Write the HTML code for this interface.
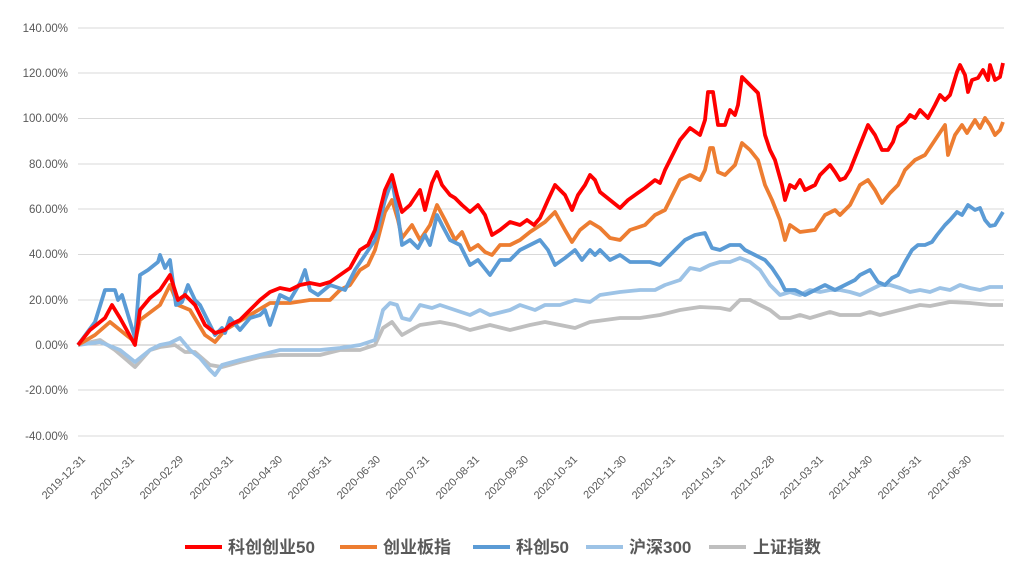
<!DOCTYPE html>
<html><head><meta charset="utf-8"><style>
body{margin:0;background:#fff;}
svg{display:block;font-family:"Liberation Sans","Noto Sans CJK SC",sans-serif;}
</style></head><body>
<svg width="1024" height="575" viewBox="0 0 1024 575">
<g stroke="#d9d9d9" stroke-width="1">
<line x1="78" x2="1004" y1="28" y2="28"/><line x1="78" x2="1004" y1="73" y2="73"/>
<line x1="78" x2="1004" y1="118.5" y2="118.5"/><line x1="78" x2="1004" y1="164" y2="164"/>
<line x1="78" x2="1004" y1="209" y2="209"/><line x1="78" x2="1004" y1="254.5" y2="254.5"/>
<line x1="78" x2="1004" y1="300" y2="300"/><line x1="78" x2="1004" y1="390" y2="390"/>
<line x1="78" x2="1004" y1="436" y2="436"/>
<line x1="78" x2="1004" y1="345" y2="345" stroke="#bfbfbf"/>
</g>
<g font-size="11.5" fill="#595959" text-anchor="end">
<text x="68" y="32">140.00%</text><text x="68" y="77">120.00%</text><text x="68" y="122">100.00%</text>
<text x="68" y="168">80.00%</text><text x="68" y="213">60.00%</text><text x="68" y="258">40.00%</text>
<text x="68" y="304">20.00%</text><text x="68" y="349">0.00%</text><text x="68" y="394">-20.00%</text>
<text x="68" y="440">-40.00%</text>
</g>
<g font-size="11" fill="#595959" text-anchor="end">
<text transform="translate(86,460) rotate(-45)">2019-12-31</text>
<text transform="translate(135,460) rotate(-45)">2020-01-31</text>
<text transform="translate(184,460) rotate(-45)">2020-02-29</text>
<text transform="translate(234,460) rotate(-45)">2020-03-31</text>
<text transform="translate(283,460) rotate(-45)">2020-04-30</text>
<text transform="translate(332,460) rotate(-45)">2020-05-31</text>
<text transform="translate(381,460) rotate(-45)">2020-06-30</text>
<text transform="translate(430,460) rotate(-45)">2020-07-31</text>
<text transform="translate(480,460) rotate(-45)">2020-08-31</text>
<text transform="translate(529,460) rotate(-45)">2020-09-30</text>
<text transform="translate(578,460) rotate(-45)">2020-10-31</text>
<text transform="translate(627,460) rotate(-45)">2020-11-30</text>
<text transform="translate(676,460) rotate(-45)">2020-12-31</text>
<text transform="translate(726,460) rotate(-45)">2021-01-31</text>
<text transform="translate(775,460) rotate(-45)">2021-02-28</text>
<text transform="translate(824,460) rotate(-45)">2021-03-31</text>
<text transform="translate(873,460) rotate(-45)">2021-04-30</text>
<text transform="translate(922,460) rotate(-45)">2021-05-31</text>
<text transform="translate(972,460) rotate(-45)">2021-06-30</text>
</g>
<g fill="none" stroke-width="3.8" stroke-linejoin="round">
<polyline stroke="#bfbfbf" points="78,345 100,340 115,350 135,367 150,350 160,347 175,345 185,352 195,352 210,365 222,367 240,362 260,357 280,355 300,355 320,355 340,350 360,350 375,345 383,328 392,322 398,330 402,335 420,325 440,322 455,325 470,330 490,325 510,330 530,325 545,322 560,325 575,328 590,322 605,320 620,318 640,318 660,315 680,310 700,307 720,308 730,310 740,300 750,300 760,305 770,310 780,318 790,318 800,315 810,318 820,315 830,312 840,315 860,315 870,312 880,315 900,310 920,305 930,306 950,302 970,303 990,305 1003,305"/>
<polyline stroke="#9dc3e6" points="78,345 100,342 120,350 135,362 150,350 160,345 170,343 180,338 190,350 200,358 210,370 215,375 222,365 240,360 260,355 280,350 300,350 320,350 340,348 360,345 375,340 383,310 390,303 397,305 402,318 410,320 420,305 432,308 440,305 455,310 470,315 480,310 490,315 510,310 520,305 535,310 545,305 560,305 575,300 590,302 600,295 620,292 640,290 655,290 665,285 680,280 690,268 700,270 710,265 720,262 730,262 740,258 750,262 760,270 770,285 780,295 790,292 800,295 810,290 820,292 830,290 840,290 850,292 860,295 870,290 880,285 890,285 900,288 910,292 920,290 930,292 940,288 950,290 960,285 970,288 980,290 990,287 1003,287"/>
<polyline stroke="#ed7d31" points="78,345 95,335 110,322 120,330 135,342 140,320 160,305 170,285 178,305 190,310 205,335 215,342 225,330 250,315 270,303 290,303 310,300 330,300 340,290 350,285 360,270 368,265 375,250 385,212 392,200 398,220 402,238 412,225 420,240 430,225 437,205 445,220 455,240 462,232 470,250 478,245 485,252 492,255 500,245 510,245 520,240 530,232 545,222 555,212 565,230 572,242 580,230 590,222 600,228 610,238 620,240 630,230 645,225 655,215 665,210 670,200 680,180 690,175 700,180 705,170 710,148 713,148 718,172 725,175 735,165 742,143 750,150 758,160 765,185 772,200 780,220 785,240 790,225 800,232 815,230 825,215 835,210 840,215 850,205 860,185 868,180 875,190 882,203 890,193 898,185 905,170 915,160 925,155 935,140 945,125 948,155 955,135 962,125 967,133 975,120 980,128 985,118 990,125 995,135 1000,130 1003,122"/>
<polyline stroke="#5b9bd5" points="78,345 95,322 105,290 115,290 118,300 122,295 135,338 140,275 148,270 158,262 160,255 165,268 170,260 176,305 182,302 188,285 195,300 200,305 210,325 215,335 222,328 225,333 230,318 240,330 250,318 260,315 265,310 270,325 280,295 290,300 300,283 305,270 310,290 318,295 330,285 345,290 355,270 365,255 375,240 385,200 392,180 398,215 402,245 410,240 418,248 425,235 430,245 437,215 442,225 450,240 460,245 470,265 478,260 490,275 500,260 510,260 520,250 530,245 540,240 548,250 555,265 565,258 575,250 582,260 590,250 595,255 600,250 610,260 620,255 630,262 640,262 650,262 660,265 670,255 675,250 685,240 695,235 705,233 712,248 720,250 730,245 740,245 745,250 755,255 765,260 772,268 780,280 785,290 795,290 805,295 815,290 825,285 835,290 845,285 855,280 860,275 870,270 878,282 885,285 892,278 898,275 905,262 912,250 918,245 925,245 932,242 937,235 945,225 950,220 957,212 962,215 968,205 975,210 980,208 985,220 990,226 995,225 1003,212"/>
<polyline stroke="#ff0000" points="78,345 90,330 105,318 112,305 120,318 135,345 140,310 150,298 160,290 170,275 178,300 185,295 195,305 205,325 215,333 225,330 230,325 240,320 250,310 260,300 270,292 280,288 290,290 300,285 310,283 320,285 330,282 340,275 350,268 360,250 368,245 375,230 385,190 392,175 397,195 402,212 410,205 420,190 425,210 432,183 437,172 442,185 450,195 455,198 462,205 470,212 478,205 485,215 492,235 500,230 510,222 520,225 527,220 534,225 540,218 548,200 555,185 565,195 572,210 578,195 585,185 590,175 595,180 600,192 610,200 620,208 628,200 635,195 645,188 655,180 660,183 665,170 670,160 680,140 690,128 700,135 705,120 708,92 713,92 718,125 725,125 730,110 735,115 738,105 742,77 750,85 758,93 765,135 770,150 775,160 782,185 785,200 790,185 795,188 800,180 805,190 815,185 820,175 830,165 835,172 840,180 845,178 850,170 860,145 868,125 875,135 882,150 888,150 893,142 898,127 905,122 910,115 915,118 920,110 928,118 935,105 940,95 945,100 950,95 957,72 960,65 965,75 968,92 972,80 978,78 983,70 988,80 990,65 995,80 1000,77 1003,63"/>
</g>
<g stroke-width="4">
<line x1="185" x2="222" y1="547" y2="547" stroke="#ff0000"/>
<line x1="340" x2="377" y1="547" y2="547" stroke="#ed7d31"/>
<line x1="473" x2="510" y1="547" y2="547" stroke="#5b9bd5"/>
<line x1="586" x2="623" y1="547" y2="547" stroke="#9dc3e6"/>
<line x1="709" x2="746" y1="547" y2="547" stroke="#bfbfbf"/>
</g>
<g font-size="17" fill="#595959" font-weight="bold">
<text x="228" y="553">科创创业50</text>
<text x="383" y="553">创业板指</text>
<text x="516" y="553">科创50</text>
<text x="629" y="553">沪深300</text>
<text x="753" y="553">上证指数</text>
</g>
</svg>
</body></html>
